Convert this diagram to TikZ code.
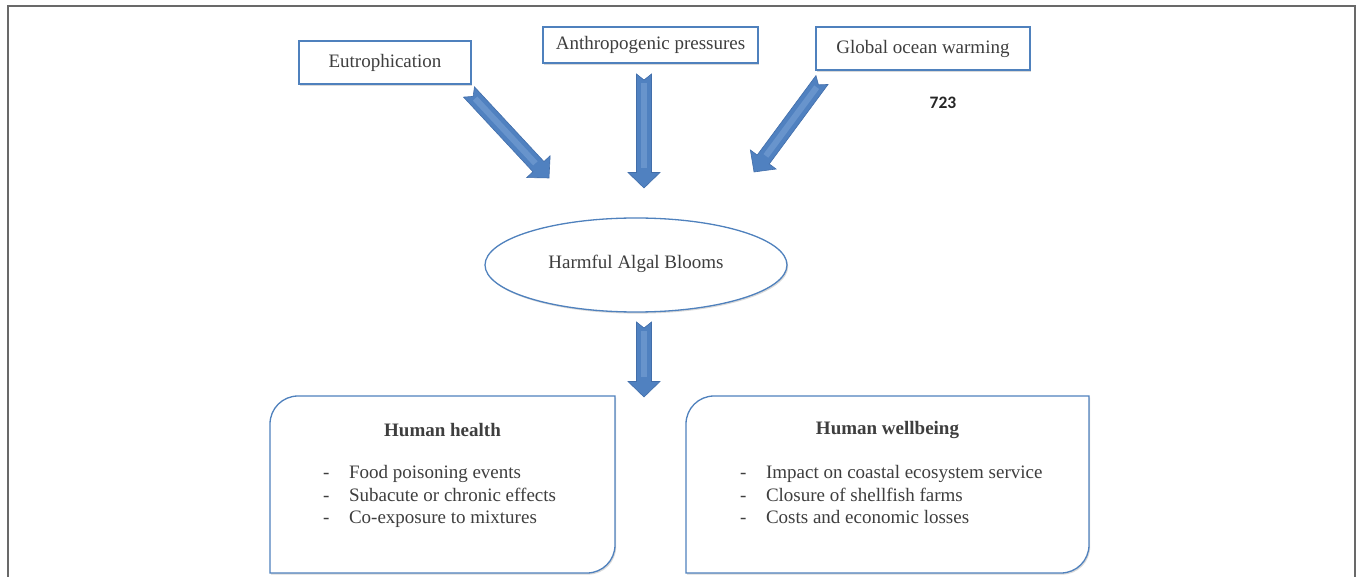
\documentclass[tikz,border=0pt]{standalone}
\usepackage{fontspec}
\setmainfont{Liberation Serif}
\newfontfamily\pagenumfont{Carlito}
\usetikzlibrary{positioning,calc,shapes.geometric,shadows}

\definecolor{boxblue}{RGB}{79,129,189}
\definecolor{arrowblue}{RGB}{80,129,192}
\definecolor{arrowlight}{RGB}{110,153,208}
\definecolor{arrowedge}{RGB}{66,110,170}
\definecolor{inkgray}{RGB}{62,62,62}
\definecolor{framegray}{RGB}{105,105,105}

\tikzset{
  softshadow/.style={drop shadow={shadow xshift=1.2pt,shadow yshift=-1.6pt,opacity=0.25,fill=black!60}},
  cause/.style={draw=boxblue,line width=1.3pt,fill=white,inner sep=0pt,softshadow},
  outcome/.style={draw=boxblue,line width=1.3pt,fill=white,softshadow},
  heading/.style={font=\fontsize{19}{22.5}\selectfont\bfseries}
}

% block arrow with notched tail, from #1 to #2
\newcommand{\blockarrow}[2]{%
  \fill[arrowblue,draw=arrowedge,line width=0.6pt]
    let \p1=($(#2)-(#1)$), \n1={atan2(\y1,\x1)}, \n2={veclen(\x1,\y1)} in
    [shift={(#1)},rotate=\n1]
    (0pt,7.5pt) -- (\n2-15.5pt,7.5pt) -- (\n2-15.5pt,16pt) -- (\n2,0pt)
    -- (\n2-15.5pt,-16pt) -- (\n2-15.5pt,-7.5pt) -- (0pt,-7.5pt) -- (6pt,0pt) -- cycle;
  \draw[arrowlight,line width=6pt,opacity=0.8]
    let \p1=($(#2)-(#1)$), \n1={atan2(\y1,\x1)}, \n2={veclen(\x1,\y1)} in
    [shift={(#1)},rotate=\n1]
    (9pt,0pt) -- (\n2-20pt,0pt);
}

% outline with rounded top-left and bottom-right corners
\newcommand{\cornerbox}[1]{%
  \draw[outcome] (#1.south west) -- ([yshift=-28pt]#1.north west)
    arc[start angle=180,end angle=90,radius=28pt] -- (#1.north east)
    -- ([yshift=28pt]#1.south east)
    arc[start angle=0,end angle=-90,radius=28pt] -- cycle;
}

\begin{document}
\begin{tikzpicture}[x=1pt,y=-1pt,every node/.style={font=\fontsize{19}{22.5}\selectfont,text=inkgray}]
  \useasboundingbox (0,0) rectangle (1357,577);
  \draw[framegray,line width=2pt] (8,577) -- (8,6) -- (1355,6) -- (1355,577);

  % causes
  \node[cause,minimum width=172pt,minimum height=43pt] (eutro) at (385,62.5) {Eutrophication};
  \node[cause,minimum width=215pt,minimum height=36pt] (anthro) at (650.5,45) {Anthropogenic pressures};
  \node[cause,minimum width=214pt,minimum height=43pt] (warming) at (923,48.5) {Global ocean warming};
  \node[font=\pagenumfont\bfseries\fontsize{17.5}{20}\selectfont,text=black!85] (pagenum) at (943,103) {723};

  % HAB
  \node[ellipse,draw=boxblue,line width=1.3pt,fill=white,softshadow,
    minimum width=302pt,minimum height=94pt] (hab) at (636,265) {\raisebox{7pt}{Harmful Algal Blooms}};

  % arrows
  \coordinate (eutro-tail) at (469,92);
  \coordinate (eutro-tip) at (549,178);
  \coordinate (anthro-tail) at (644,74);
  \coordinate (anthro-tip) at (644,188);
  \coordinate (warming-tail) at (822,80);
  \coordinate (warming-tip) at (754,172);
  \coordinate (hab-tail) at (644,322);
  \coordinate (hab-tip) at (644,397);
  \blockarrow{eutro-tail}{eutro-tip}
  \blockarrow{anthro-tail}{anthro-tip}
  \blockarrow{warming-tail}{warming-tip}
  \blockarrow{hab-tail}{hab-tip}

  % outcomes
  \node[inner sep=0pt,outer sep=0pt,minimum width=345pt,minimum height=177pt] (health) at (442.5,484.5) {};
  \node[inner sep=0pt,outer sep=0pt,minimum width=403pt,minimum height=177pt] (wellbeing) at (887.5,484.5) {};
  \cornerbox{health}
  \cornerbox{wellbeing}

  \node[heading] (health-title) at ([yshift=-34pt]health.north) {Human health};
  \node[anchor=north west,inner sep=0pt] (health-list) at (323,463)
    {\begin{tabular}{@{}l@{\hspace{19.5pt}}l@{}}
      - & Food poisoning events\\
      - & Subacute or chronic effects\\
      - & Co-exposure to mixtures
    \end{tabular}};

  \node[heading] (wellbeing-title) at ([yshift=-34pt]wellbeing.north) {Human wellbeing};
  \node[anchor=north west,inner sep=0pt] (wellbeing-list) at (740,463)
    {\begin{tabular}{@{}l@{\hspace{19.5pt}}l@{}}
      - & Impact on coastal ecosystem service\\
      - & Closure of shellfish farms\\
      - & Costs and economic losses
    \end{tabular}};
\end{tikzpicture}
\end{document}
